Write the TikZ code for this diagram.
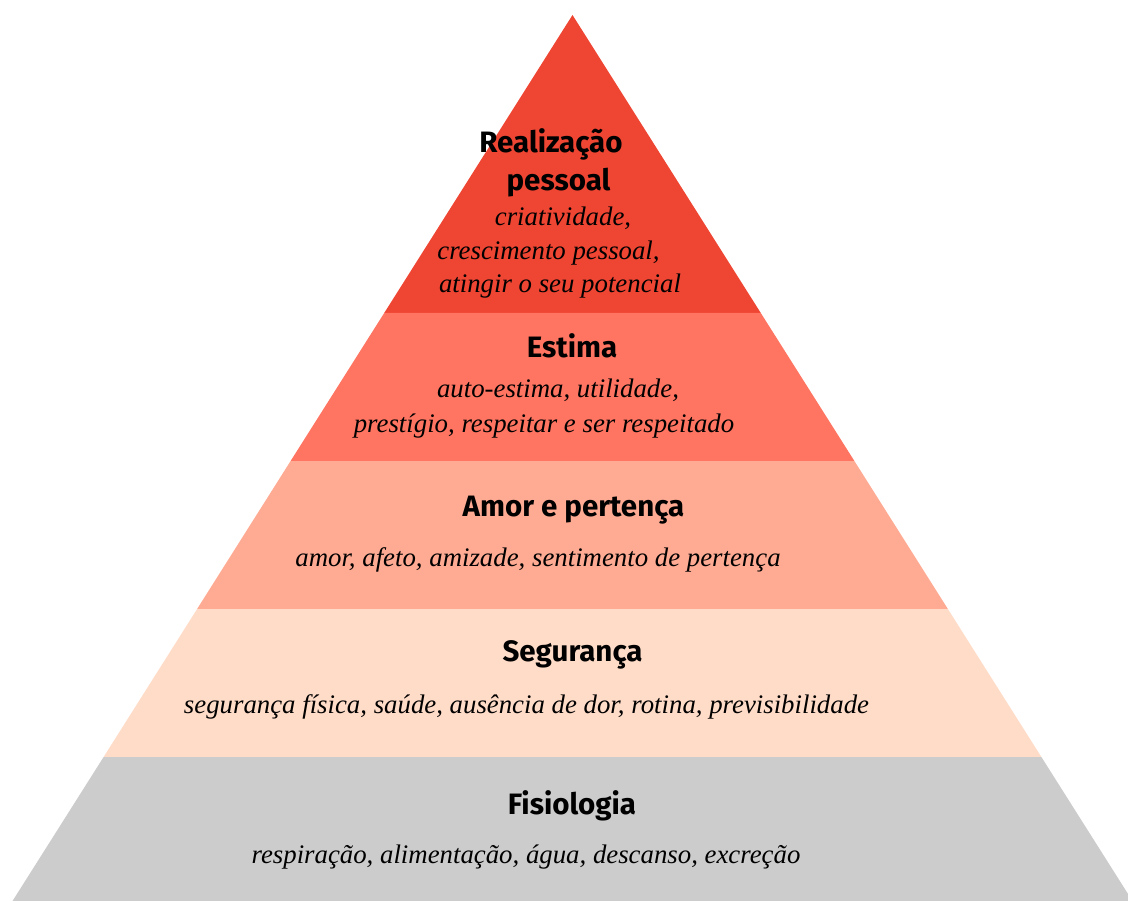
\documentclass[tikz,border=0pt]{standalone}
\usepackage{fontspec}
\setmainfont{Liberation Serif}
\newfontfamily\headfont{Fira Sans}
\definecolor{bandA}{HTML}{EF4533}
\definecolor{bandB}{HTML}{FF7562}
\definecolor{bandC}{HTML}{FFAB94}
\definecolor{bandD}{HTML}{FFDCC8}
\definecolor{bandE}{HTML}{CCCCCC}
\tikzset{
  head/.style={inner sep=0pt, anchor=base, font=\headfont\bfseries\fontsize{29.5}{34}\selectfont},
  desc/.style={inner sep=0pt, anchor=base, font=\itshape\fontsize{26.8}{31}\selectfont},
}
\begin{document}
\begin{tikzpicture}[x=1pt,y=-1pt]
\useasboundingbox (0,0) rectangle (1128,901);
\clip (0,0) rectangle (1128,901);
\coordinate (apex) at (572.5,15);
\coordinate (l1) at (384.2,313); \coordinate (r1) at (760.8,313);
\coordinate (l2) at (290.6,461); \coordinate (r2) at (854.4,461);
\coordinate (l3) at (197.1,609); \coordinate (r3) at (947.9,609);
\coordinate (l4) at (103.6,757); \coordinate (r4) at (1041.4,757);
\coordinate (l5) at (12.5,901);  \coordinate (r5) at (1132.5,901);
\fill[bandA] (apex) -- (r1) -- (l1) -- cycle;
\fill[bandB] (l1) -- (r1) -- (r2) -- (l2) -- cycle;
\fill[bandC] (l2) -- (r2) -- (r3) -- (l3) -- cycle;
\fill[bandD] (l3) -- (r3) -- (r4) -- (l4) -- cycle;
\fill[bandE] (l4) -- (r4) -- (r5) -- (l5) -- cycle;
% level 5
\node[head] (h1a) at (551,153) {Realização};
\node[head] (h1b) at (558.5,190.5) {pessoal};
\node[desc] (d1a) at (563,226) {criatividade,};
\node[desc] (d1b) at (548.5,260) {crescimento pessoal,};
\node[desc] (d1c) at (560,293) {atingir o seu potencial};
% level 4
\node[head] (h2) at (572,358) {Estima};
\node[desc] (d2a) at (558,398) {auto-estima, utilidade,};
\node[desc] (d2b) at (544,432) {prestígio, respeitar e ser respeitado};
% level 3
\node[head] (h3) at (573.5,516.5) {Amor e pertença};
\node[desc] (d3) at (538,566.5) {amor, afeto, amizade, sentimento de pertença};
% level 2
\node[head] (h4) at (572.5,661.5) {Segurança};
\node[desc] (d4) at (526.5,713.3) {segurança física, saúde, ausência de dor, rotina, previsibilidade};
% level 1
\node[head] (h5) at (572,814.3) {Fisiologia};
\node[desc] (d5) at (526,863.3) {respiração, alimentação, água, descanso, excreção};
\end{tikzpicture}
\end{document}
